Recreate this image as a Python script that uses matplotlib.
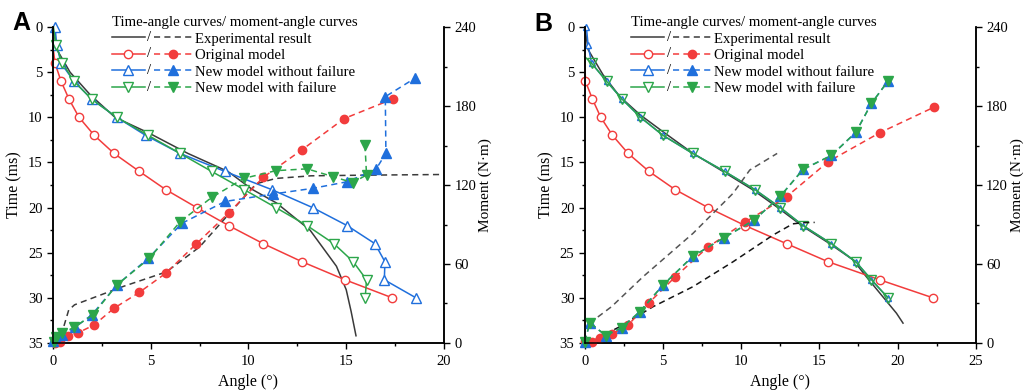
import matplotlib
matplotlib.use('Agg')
import matplotlib.pyplot as plt
from matplotlib.ticker import MultipleLocator
from matplotlib.lines import Line2D
from matplotlib.text import Text
from matplotlib.legend_handler import HandlerBase

plt.rcParams['font.family'] = ['Liberation Serif', 'DejaVu Serif']

# ---- DATA: panel A ----
a_exp_ang = [0, 0.2, 0.87, 1.9, 3.17, 4.96, 6.9, 8.95, 10.2, 11.44, 13.15, 14.5, 15.0, 15.25, 15.5]
a_exp_t = [0, 2.5, 5.0, 7.5, 10.0, 11.8, 14.0, 16.0, 18.0, 19.5, 22.5, 26.5, 29.1, 31.5, 34.2]
a_orig_ang = [0, 0.1, 0.41, 0.82, 1.33, 2.11, 3.12, 4.42, 5.76, 7.35, 8.99, 10.76, 12.74, 14.94, 17.36]
a_orig_t = [2.2, 4, 6, 8, 10, 12, 14, 16, 18, 20, 22, 24, 26, 28, 30]
a_nf_ang = [0.1, 0.19, 0.41, 1.07, 1.98, 3.26, 4.74, 6.5, 8.8, 11.18, 13.28, 15.05, 16.47, 16.98, 16.95, 18.57]
a_wf_ang = [0.02, 0.15, 0.48, 1.07, 1.98, 3.26, 4.87, 6.5, 8.12, 9.77, 11.4, 13.0, 14.37, 15.36, 16.04, 15.97]
a_model_t = [0, 2, 4, 6, 8, 10, 12, 14, 16, 18, 20, 22, 24, 26, 28, 30]

a_exp_m_ang = [0, 0.44, 0.8, 1.1, 3.6, 5.8, 7.5, 9.6, 10.4, 11.4, 13.2, 16.0, 20.0]
a_exp_m = [0, 7, 25, 29, 43, 54, 73, 108, 121, 125, 127, 127.5, 128]
a_orig_m_ang = [0.1, 0.36, 0.78, 1.3, 2.1, 3.12, 4.42, 5.76, 7.31, 9.0, 10.76, 12.72, 14.9, 17.37]
a_orig_m = [0.3, 1.0, 5.6, 7.9, 13.7, 26.4, 38.5, 52.9, 75, 99, 125.9, 146.6, 170.5, 185.3]
a_nf_m_ang = [0.02, 0.1, 0.44, 1.12, 1.98, 3.26, 4.87, 6.6, 8.8, 11.27, 13.3, 15.05, 16.52, 17.03, 17.0, 18.5]
a_nf_m = [1.5, 4.8, 6.1, 11.9, 21.3, 44, 64.3, 91, 107.5, 113.2, 117.5, 122.5, 131.9, 144.1, 187.1, 201]
a_wf_m_ang = [0.05, 0.15, 0.48, 1.07, 2.03, 3.26, 4.93, 6.5, 8.12, 9.77, 11.4, 13.0, 14.34, 15.33, 16.04, 15.96]
a_wf_m = [1, 4.8, 7.5, 11.9, 21.3, 44, 64.3, 92.1, 110.6, 125.1, 130.9, 132.3, 126.3, 121.8, 127.6, 150.4]

# ---- DATA: panel B ----
b_exp_ang = [0, 0.21, 1.17, 2.24, 3.52, 5.0, 6.92, 8.84, 10.76, 12.26, 13.96, 15.66, 17.16, 18.0, 19.07, 19.93, 20.35]
b_exp_t = [0, 2.5, 5.3, 7.7, 9.7, 11.6, 14.0, 16.0, 18.05, 19.9, 22.1, 24.0, 25.8, 27.65, 29.9, 31.7, 32.8]
b_orig_ang = [0, 0.04, 0.49, 1.02, 1.77, 2.77, 4.11, 5.77, 7.88, 10.26, 12.9, 15.56, 18.86, 22.27]
b_orig_t = [3.4, 6, 8, 10, 12, 14, 16, 18, 20, 22, 24, 26, 28, 30]
b_nf_ang = [0.1, 0.21, 0.43, 1.39, 2.39, 3.56, 5.0, 6.9, 8.95, 10.87, 12.5, 13.96, 15.77, 17.33, 18.33, 19.39]
b_nf_t = [0, 2, 4, 6, 8, 10, 12, 14, 16, 18, 20, 22, 24, 26, 28, 30]
b_wf_ang = [0, 0.43, 1.39, 2.39, 3.56, 5.0, 6.9, 8.95, 10.87, 12.5, 13.96, 15.77, 17.33, 18.33, 19.39]
b_wf_t = [3.3, 4, 6, 8, 10, 12, 14, 16, 18, 20, 22, 24, 26, 28, 30]

b_exp1_m_ang = [0.3, 1.71, 3.73, 6.92, 9.48, 10.55, 12.3]
b_exp1_m = [15, 27.6, 50.4, 83.3, 113.7, 131.4, 144]
b_exp2_m_ang = [0.7, 2.24, 4.37, 6.92, 9.48, 12.04, 13.3, 13.96, 14.7]
b_exp2_m = [3, 12.4, 27.6, 42.8, 61.7, 82, 90.5, 91.4, 91.6]
b_orig_m_ang = [0.0, 0.43, 0.96, 1.77, 2.77, 4.11, 5.77, 7.86, 10.24, 12.9, 15.56, 18.86, 22.31]
b_orig_m = [1.5, 1.0, 4.0, 6.8, 13.7, 30.6, 50.1, 72.7, 91.7, 111.1, 137.7, 159.7, 179]
b_nf_m_ang = [0.0, 0.32, 1.34, 2.35, 3.52, 5.0, 6.9, 8.9, 10.83, 12.49, 13.96, 15.77, 17.33, 18.33, 19.39]
b_nf_m = [1, 15.4, 5.6, 11.6, 23.8, 44, 65.8, 80, 93.4, 111.3, 131.9, 142.5, 160, 182, 199]
b_wf_m_ang = b_nf_m_ang
b_wf_m = b_nf_m

legend_title = 'Time-angle curves/ moment-angle curves'
legend_labels = ['Experimental result', 'Original model',
                 'New model without failure', 'New model with failure']

# ---- STYLE ----
BLACK = '#3a3a3a'
RED = '#f23c3c'
BLUE = '#1f6fdc'
GREEN = '#2ca64a'
LW = 1.1
DASH = (0, (4, 2.8))
FS = 10.6


class PairHandler(HandlerBase):
    # draws "solid line / dashed line" as one legend key
    def create_artists(self, legend, orig_handle, xdescent, ydescent,
                       width, height, fontsize, trans):
        solid, dashed = orig_handle
        y = height / 2 - ydescent
        x0 = -xdescent
        w1 = width * 0.41
        gap = width * 0.12
        arts = []
        for h, xa, xb in ((solid, x0, x0 + w1), (dashed, x0 + w1 + gap, x0 + width)):
            ln = Line2D([xa, (xa + xb) / 2, xb], [y, y, y])
            self.update_prop(ln, h, legend)
            ln.set_markevery([1])
            ln.set_transform(trans)
            arts.append(ln)
        arts.append(Text(x0 + w1 + gap / 2, y, '/', ha='center', va='center',
                         fontsize=fontsize, transform=trans))
        return arts


def setup_axes(ax, xmax):
    ax2 = ax.twinx()
    ax.set_xlim(0, xmax)
    ax.set_ylim(35, 0)
    ax2.set_ylim(0, 240)
    ax.spines['top'].set_visible(False)
    ax2.spines['top'].set_visible(False)
    for a in (ax, ax2):
        for s in a.spines.values():
            s.set_linewidth(1.1)
        a.tick_params(which='major', direction='out', length=4, width=1.0, labelsize=10.5)
        a.tick_params(which='minor', direction='out', length=2.5, width=1.0)
    ax.tick_params(axis='x', pad=5)
    ax.xaxis.set_major_locator(MultipleLocator(5))
    ax.xaxis.set_minor_locator(MultipleLocator(2.5))
    ax.yaxis.set_major_locator(MultipleLocator(5))
    ax.yaxis.set_minor_locator(MultipleLocator(2.5))
    ax2.yaxis.set_major_locator(MultipleLocator(60))
    ax2.yaxis.set_minor_locator(MultipleLocator(30))
    ax.set_xlabel('Angle (°)', fontsize=11.5, labelpad=4)
    ax.set_ylabel('Time (ms)', fontsize=11.5, labelpad=4)
    ax2.set_ylabel('Moment (N·m)', fontsize=11, labelpad=1.5)
    return ax2


def add_legend(ax2, x0):
    solid = dict(lw=LW, ls='-')
    dash = dict(lw=LW, ls=DASH)
    handles = [
        (Line2D([], [], color=BLACK, **solid), Line2D([], [], color=BLACK, **dash)),
        (Line2D([], [], color=RED, marker='o', ms=6, mfc='white', **solid),
         Line2D([], [], color=RED, marker='o', ms=6, **dash)),
        (Line2D([], [], color=BLUE, marker='^', ms=6.5, mfc='white', **solid),
         Line2D([], [], color=BLUE, marker='^', ms=6.5, **dash)),
        (Line2D([], [], color=GREEN, marker='v', ms=6.5, mfc='white', **solid),
         Line2D([], [], color=GREEN, marker='v', ms=6.5, **dash)),
    ]
    ax2.legend(handles, legend_labels, handler_map={tuple: PairHandler()},
               loc='upper left', bbox_to_anchor=(x0, 1.035), frameon=False,
               title=legend_title, title_fontsize=FS, fontsize=FS, alignment='left',
               borderpad=0, borderaxespad=0, handlelength=5.4, handletextpad=0.22,
               labelspacing=0.22)


fig = plt.figure(figsize=(10.26, 3.91), dpi=100)

# ---- PANEL A ----
axA = fig.add_axes([0.0517, 0.1228, 0.381, 0.808])
axA2 = setup_axes(axA, 20)
axA.plot(a_exp_ang, a_exp_t, color=BLACK, lw=LW)
axA.plot(a_orig_ang, a_orig_t, color=RED, lw=LW, marker='o', ms=6, mfc='white',
         markevery=slice(1, None), clip_on=False)
axA.plot(a_nf_ang, a_model_t, color=BLUE, lw=LW, marker='^', ms=6.5, mfc='white', clip_on=False)
axA.plot(a_wf_ang, a_model_t, color=GREEN, lw=LW, marker='v', ms=6.5, mfc='white',
         markevery=slice(1, None), clip_on=False)
axA2.plot(a_exp_m_ang, a_exp_m, color=BLACK, lw=LW, ls=DASH)
axA2.plot(a_orig_m_ang, a_orig_m, color=RED, lw=LW, ls=DASH, marker='o', ms=6, clip_on=False)
axA2.plot(a_nf_m_ang, a_nf_m, color=BLUE, lw=LW, ls=DASH, marker='^', ms=6.5, clip_on=False)
axA2.plot(a_wf_m_ang, a_wf_m, color=GREEN, lw=LW, ls=DASH, marker='v', ms=6.5, clip_on=False)
add_legend(axA2, 0.151)

# ---- PANEL B ----
axB = fig.add_axes([0.570, 0.1228, 0.381, 0.808])
axB2 = setup_axes(axB, 25)
axB.plot(b_exp_ang, b_exp_t, color=BLACK, lw=LW)
axB.plot(b_orig_ang, b_orig_t, color=RED, lw=LW, marker='o', ms=6, mfc='white',
         markevery=slice(1, None), clip_on=False)
axB.plot(b_nf_ang, b_nf_t, color=BLUE, lw=LW, marker='^', ms=4.5, mfc='white', clip_on=False)
axB.plot(b_wf_ang, b_wf_t, color=GREEN, lw=LW, marker='v', ms=6.5, mfc='none',
         markevery=slice(1, None), clip_on=False)
axB2.plot(b_exp1_m_ang, b_exp1_m, color='#555555', lw=LW, ls=DASH)
axB2.plot(b_exp2_m_ang, b_exp2_m, color='#151515', lw=LW, ls=DASH)
axB2.plot(b_orig_m_ang, b_orig_m, color=RED, lw=LW, ls=DASH, marker='o', ms=6, clip_on=False)
axB2.plot(b_nf_m_ang, b_nf_m, color=BLUE, lw=LW, ls=DASH, marker='^', ms=6.5, clip_on=False)
axB2.plot(b_wf_m_ang, b_wf_m, color=GREEN, lw=LW, ls=DASH, marker='v', ms=6.5, clip_on=False)
add_legend(axB2, 0.119)

# panel letters
fig.text(0.0205, 0.94, 'A', fontsize=18, fontweight='bold', family='Liberation Sans',
         ha='center', va='center')
fig.text(0.5297, 0.939, 'B', fontsize=18, fontweight='bold', family='Liberation Sans',
         ha='center', va='center')

fig.savefig('out.png', dpi=100)
